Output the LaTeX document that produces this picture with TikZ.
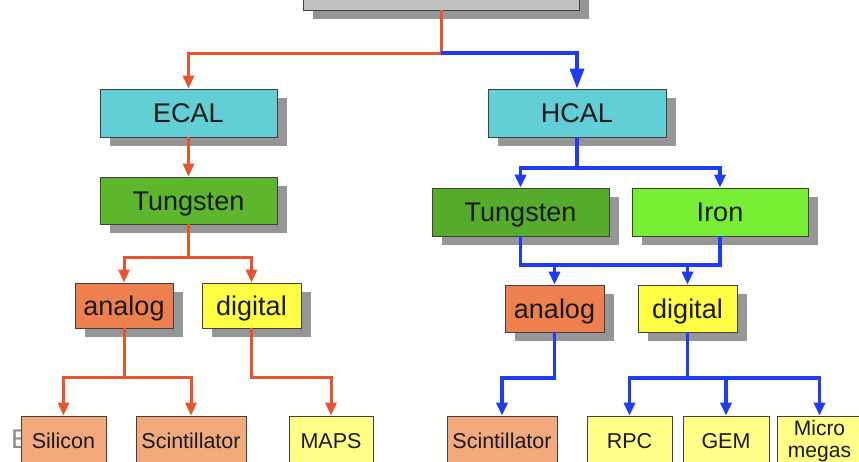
\documentclass[tikz,border=0pt]{standalone}
\usepackage{fontspec}
\setmainfont{Liberation Sans}
\usetikzlibrary{arrows.meta,shadows}
\definecolor{redl}{HTML}{E8542C}
\definecolor{bluel}{HTML}{1F3CF5}
\definecolor{topfill}{HTML}{C0C0C0}
\definecolor{shadowc}{HTML}{969696}
\definecolor{calfill}{HTML}{62CFD6}
\definecolor{tungA}{HTML}{5DB62B}
\definecolor{tungB}{HTML}{56AC2A}
\definecolor{ironf}{HTML}{77EE33}
\definecolor{analogf}{HTML}{EE8050}
\definecolor{digitalf}{HTML}{FFFF44}
\definecolor{salmonf}{HTML}{F2AA7C}
\definecolor{paleyel}{HTML}{FFFF88}
\tikzset{
  box/.style={rectangle, draw=black!75, line width=0.7pt, inner sep=0pt, text=black!90, align=center},
  shad/.style={drop shadow={shadow xshift=10pt, shadow yshift=-9pt, fill=shadowc, opacity=1}},
  bigtxt/.style={font=\fontsize{27}{30}\selectfont, text height=19.4pt, text depth=0pt},
  smalltxt/.style={font=\fontsize{21.5}{22}\selectfont, text height=15.5pt, text depth=0pt},
  twoline/.style={font=\fontsize{21}{22}\selectfont},
  redline/.style={draw=redl, line width=3pt},
  blueline/.style={draw=bluel, line width=3.2pt},
  tip/.style={-{Triangle[length=13pt,width=11pt]}},
  bigtip/.style={-{Triangle[length=20pt,width=14pt]}}
}
\begin{document}
\begin{tikzpicture}[x=1pt,y=1pt]
\useasboundingbox (0,0) rectangle (859,-461);
\clip (0,0) rectangle (859,-461);
% top box
\node[box, shad, fill=topfill, minimum width=276pt, minimum height=50pt] (top) at (441,15) {};
% ECAL branch
\node[box, shad, bigtxt, fill=calfill, minimum width=177pt, minimum height=48pt] (ecal) at (188.5,-113) {ECAL};
\node[box, shad, bigtxt, fill=tungA, minimum width=177pt, minimum height=47pt] (tung1) at (188.5,-200.5) {Tungsten};
\node[box, shad, bigtxt, fill=analogf, minimum width=98pt, minimum height=45pt] (ana1) at (124,-305.5) {analog};
\node[box, shad, bigtxt, fill=digitalf, minimum width=99pt, minimum height=45pt] (dig1) at (251.5,-305.5) {digital};
\node[text=black!45, bigtxt, anchor=west, inner sep=0pt] (etxt) at (11,-439) {E};
\node[box, smalltxt, fill=salmonf, minimum width=85pt, minimum height=50pt] (sil) at (63.5,-441) {Silicon};
\node[box, smalltxt, fill=salmonf, minimum width=110pt, minimum height=50pt] (sci1) at (191,-441) {Scintillator};
\node[box, smalltxt, fill=paleyel, minimum width=84pt, minimum height=50pt] (maps) at (331,-441) {MAPS};
% HCAL branch
\node[box, shad, bigtxt, fill=calfill, minimum width=178pt, minimum height=48pt] (hcal) at (577,-113) {HCAL};
\node[box, shad, bigtxt, fill=tungB, minimum width=177pt, minimum height=48pt] (tung2) at (520.5,-212) {Tungsten};
\node[box, shad, bigtxt, fill=ironf, minimum width=176pt, minimum height=48pt] (iron) at (720,-212) {Iron};
\node[box, shad, bigtxt, fill=analogf, minimum width=99pt, minimum height=47pt] (ana2) at (554.5,-308.5) {analog};
\node[box, shad, bigtxt, fill=digitalf, minimum width=99pt, minimum height=47pt] (dig2) at (687.5,-308.5) {digital};
\node[box, smalltxt, fill=salmonf, minimum width=110pt, minimum height=50pt] (sci2) at (502,-441) {Scintillator};
\node[box, smalltxt, fill=paleyel, minimum width=85pt, minimum height=50pt] (rpc) at (629.5,-441) {RPC};
\node[box, smalltxt, fill=paleyel, minimum width=86pt, minimum height=50pt] (gem) at (726,-441) {GEM};
\node[box, twoline, fill=paleyel, minimum width=85pt, minimum height=50pt] (micro) at (819.5,-441) {Micro\\megas};
% coordinates
\coordinate (split) at (441,-53);
\coordinate (t1) at (188.5,-257);
\coordinate (a1) at (124,-377);
\coordinate (d1) at (251.5,-377);
\coordinate (h1) at (577,-168);
\coordinate (jl) at (520.5,-265);
\coordinate (jr) at (720,-265);
\coordinate (a2) at (554.5,-378);
\coordinate (d2) at (687.5,-378);
% red connectors
\draw[redline, tip] (top.south) -- (split) -| (ecal.north);
\draw[redline, tip] (ecal.south) -- (tung1.north);
\draw[redline, tip] (tung1.south) -- (t1) -| (ana1.north);
\draw[redline, tip] (t1) -| (dig1.north);
\draw[redline, tip] (ana1.south) -- (a1) -| (sil.north);
\draw[redline, tip] (a1) -| (sci1.north);
\draw[redline, tip] (dig1.south) -- (d1) -| (maps.north);
% blue connectors
\draw[blueline, bigtip] (split) -| (hcal.north);
\draw[blueline, tip] (hcal.south) -- (h1) -| (tung2.north);
\draw[blueline, tip] (h1) -| (iron.north);
\draw[blueline] (tung2.south) -- (jl) -- (jr) -- (iron.south);
\draw[blueline, tip] (jl -| ana2.north) -- (ana2.north);
\draw[blueline, tip] (jl -| dig2.north) -- (dig2.north);
\draw[blueline, tip] (ana2.south) -- (a2) -| (sci2.north);
\draw[blueline, tip] (dig2.south) -- (d2) -| (rpc.north);
\draw[blueline, tip] (d2) -| (gem.north);
\draw[blueline, tip] (d2) -| (micro.north);
\end{tikzpicture}
\end{document}
